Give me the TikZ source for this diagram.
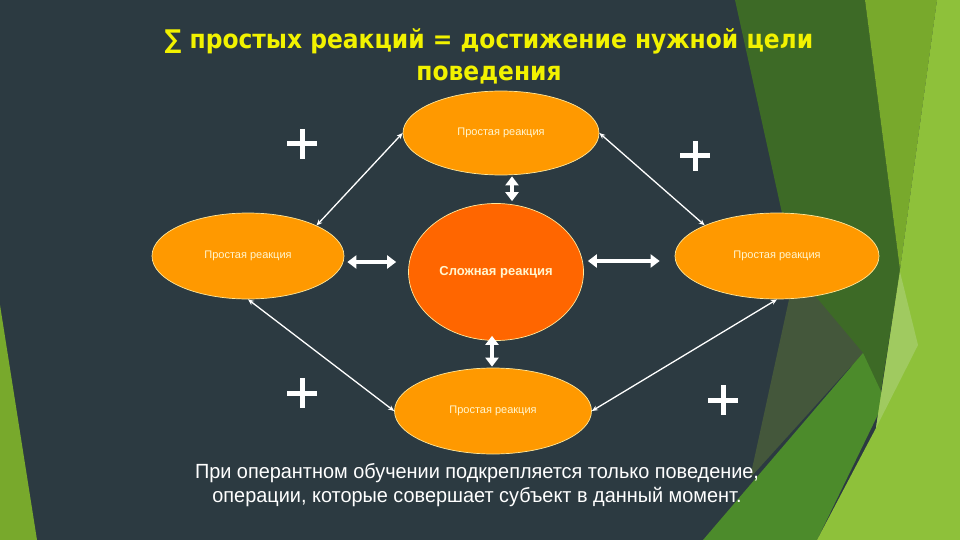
\documentclass[tikz,border=0pt]{standalone}
\usepackage{fontspec}
\setmainfont{Liberation Sans}
\newfontfamily\titlefont{DejaVu Sans Condensed}
\newfontfamily\bodyfont[FakeStretch=0.97]{Liberation Sans}
\usetikzlibrary{shapes.geometric,arrows.meta,calc}
\usepackage{xcolor}

\definecolor{slate}{HTML}{2C3A41}
\definecolor{facetdark}{HTML}{3D6A26}
\definecolor{facetgrey}{HTML}{44573B}
\definecolor{facetmid}{HTML}{4C8B2B}
\definecolor{facetlime}{HTML}{78A92C}
\definecolor{facetlight}{HTML}{8EC13A}
\definecolor{facetpale}{HTML}{A0CA60}
\definecolor{simplefill}{HTML}{FF9900}
\definecolor{complexfill}{HTML}{FF6600}
\definecolor{rimline}{HTML}{FFE79A}
\definecolor{labeltext}{HTML}{FFF6D0}
\definecolor{titleyellow}{HTML}{F2F200}

\begin{document}
\begin{tikzpicture}[x=1pt,y=-1pt,
    simple reaction/.style={ellipse, fill=simplefill, draw=rimline, line width=0.7pt,
        inner sep=0pt, text=labeltext, font=\fontsize{11}{13}\selectfont},
    complex reaction/.style={simple reaction, fill=complexfill,
        font=\fontsize{13}{15}\selectfont\bfseries},
    thinlink/.style={{Stealth[length=6pt,width=5pt]}-{Stealth[length=6pt,width=5pt]},
        white, line width=1.3pt},
    thicklink/.style={{Triangle[length=9pt,width=13pt]}-{Triangle[length=9pt,width=13pt]},
        white, line width=4.5pt},
    plussign/.style={white, line width=5pt}]
            % Slide background with the green facets
            \useasboundingbox (0,0) rectangle (960,540);
            \fill[slate] (0,0) rectangle (960,540);
            \fill[facetlime] (0,305) -- (37,540) -- (0,540) -- cycle;
            \fill[facetdark] (735,0) -- (865,0) -- (900,270) -- (878,410) -- (795,272) -- cycle;
            \fill[facetgrey] (795,272) -- (863,353) -- (750,478) -- cycle;
            \fill[facetmid] (863,353) -- (885,400) -- (817,540) -- (703,540) -- cycle;
            \fill[facetlime] (865,0) -- (937,0) -- (900,270) -- cycle;
            \fill[facetlight] (937,0) -- (960,0) -- (960,540) -- (817,540) -- (876,428) -- (900,270) -- cycle;
            \fill[facetpale] (900,272) -- (918,345) -- (876,428) -- cycle;

            % Title
            \node[text=titleyellow, align=center, font=\titlefont\bfseries\fontsize{26}{32}\selectfont]
                (title) at (489,56) {∑ простых реакций = достижение нужной цели\\поведения};

            % Reactions
            \node[simple reaction, minimum width=196pt, minimum height=84pt] (simpleTop) at (501,133) {Простая реакция};
            \node[simple reaction, minimum width=192pt, minimum height=86pt] (simpleLeft) at (248,256) {Простая реакция};
            \node[simple reaction, minimum width=204pt, minimum height=86pt] (simpleRight) at (777,256) {Простая реакция};
            \node[simple reaction, minimum width=197pt, minimum height=86pt] (simpleBottom) at (493,411) {Простая реакция};
            \node[complex reaction, minimum width=175pt, minimum height=137pt] (complex) at (496,272) {Сложная реакция};

            % Thin links round the outside
            \draw[thinlink] (simpleTop.west) -- (simpleLeft.24);
            \draw[thinlink] (simpleTop.east) -- (simpleRight.157);
            \draw[thinlink] (simpleLeft.south) -- (simpleBottom.west);
            \draw[thinlink] (simpleBottom.east) -- (simpleRight.south);

            % Thick links to the complex reaction
            \draw[thicklink] ([shift={(3,6)}]simpleLeft.east) -- ([shift={(-12,-10)}]complex.west);
            \draw[thicklink] ([shift={(4,-11)}]complex.east) -- ([shift={(-15,5)}]simpleRight.west);
            \draw[thicklink] ([shift={(11,1)}]simpleTop.south) -- ([shift={(16,-2)}]complex.north);
            \draw[thicklink] ([shift={(-4,-5)}]complex.south) -- ([shift={(-1,-1)}]simpleBottom.north);

            % Plus signs
            \foreach \x/\y in {302/144, 695/156, 302/393, 723/400} {
                \draw[plussign] (\x-15,\y) -- (\x+15,\y) (\x,\y-15) -- (\x,\y+15);
            }

            % Caption
            \node[text=white, align=center, font=\bodyfont\fontsize{20.5}{24}\selectfont]
                (caption) at (477,485) {При оперантном обучении подкрепляется только поведение,\\операции, которые совершает субъект в данный момент.};
\end{tikzpicture}
\end{document}
